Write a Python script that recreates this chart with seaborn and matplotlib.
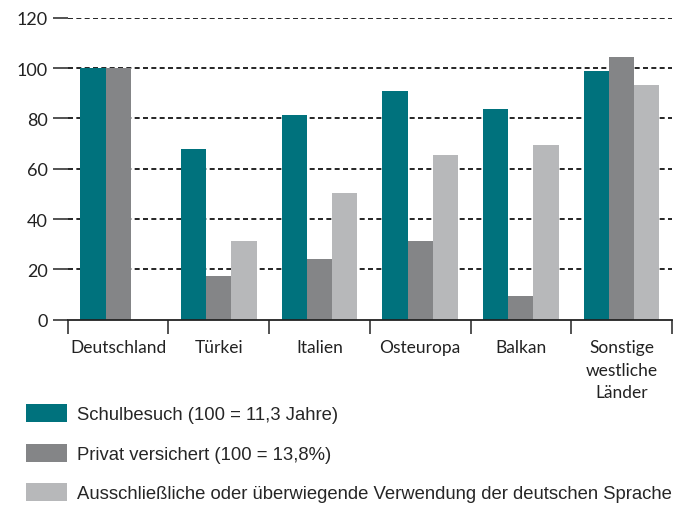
import numpy as np
import pandas as pd
import matplotlib
matplotlib.use("Agg")
import matplotlib.pyplot as plt
import seaborn as sns
from matplotlib.ticker import FixedLocator

regions = ["Deutschland", "Türkei", "Italien", "Osteuropa", "Balkan",
           "Sonstige\nwestliche\nLänder"]
series = ["Schulbesuch (100 = 11,3 Jahre)",
          "Privat versichert (100 = 13,8%)",
          "Ausschließliche oder überwiegende Verwendung der deutschen Sprache"]
schulbesuch = [100, 68.0, 81.5, 91.0, 83.9, 98.9]
privat = [100, 17.3, 24.0, 31.2, 9.4, 104.5]
sprache = [np.nan, 31.2, 50.2, 65.6, 69.6, 93.4]
yticks = [0, 20, 40, 60, 80, 100, 120]

colors = ["#00727d", "#848587", "#b7b8ba"]

df = pd.DataFrame({
    "Region": regions * 3,
    "Reihe": [series[0]] * 6 + [series[1]] * 6 + [series[2]] * 6,
    "Wert": schulbesuch + privat + sprache,
})

sns.set_style("white")
plt.rcParams["font.family"] = ["Lato", "DejaVu Sans"]

fig = plt.figure(figsize=(6.78, 5.06), dpi=100)
ax = fig.add_axes([0.100, 0.366, 0.891, 0.597])

sns.barplot(data=df, x="Region", y="Wert", hue="Reihe", hue_order=series,
            order=regions, palette=colors, saturation=1, width=0.75,
            errorbar=None, ax=ax, linewidth=0)

handles, labels = ax.get_legend_handles_labels()
if ax.get_legend() is not None:
    ax.get_legend().remove()

ax.set_xlim(-0.5, len(regions) - 0.5)
ax.set_ylim(0, 120)
ax.set_xlabel("")
ax.set_ylabel("")
ax.set_yticks(yticks)
ax.set_yticklabels([str(v) for v in yticks], fontsize=13, color="#222222")
ax.tick_params(axis="y", length=11, width=1.3, color="#444444", pad=3.5, left=True)

ax.set_xticks(range(len(regions)))
ax.set_xticklabels(regions, fontsize=12.5, color="#222222", linespacing=1.5)
ax.tick_params(axis="x", which="major", length=0, pad=14)
ax.xaxis.set_minor_locator(FixedLocator(np.arange(-0.5, len(regions), 1.0)))
ax.tick_params(axis="x", which="minor", length=10, width=1.3, color="#444444",
               bottom=True)

for v in yticks[1:]:
    ax.axhline(v, color="black", lw=1.2, ls=(0, (3, 2)), zorder=0)

for s in ["top", "right", "left"]:
    ax.spines[s].set_visible(False)
ax.spines["bottom"].set_color("#222222")
ax.spines["bottom"].set_linewidth(1.3)
ax.spines["bottom"].set_zorder(5)

fig.legend(handles, labels, loc="upper left", bbox_to_anchor=(0.038, 0.199),
           frameon=False, borderpad=0, borderaxespad=0, handlelength=2.25,
           handleheight=1.1, handletextpad=0.55, labelspacing=1.1,
           prop={"family": ["Liberation Sans", "DejaVu Sans"], "size": 13.3})

fig.savefig("out.png", dpi=100)
